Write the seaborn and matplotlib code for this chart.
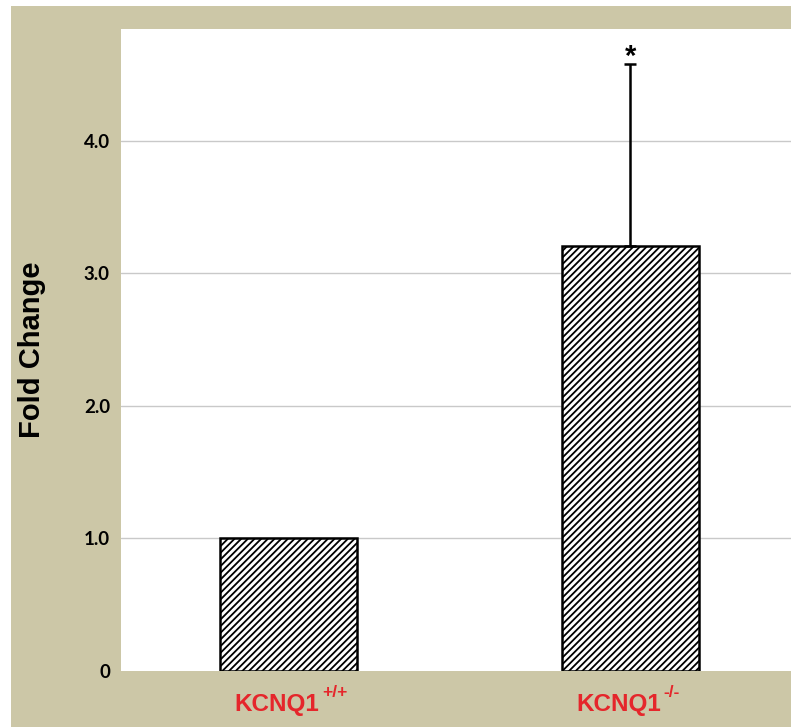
import matplotlib
matplotlib.use("Agg")
import matplotlib.pyplot as plt
from matplotlib.patches import Rectangle
from matplotlib.transforms import ScaledTranslation
import seaborn as sns
import pandas as pd

# Data
genotypes = ["KCNQ1+/+", "KCNQ1-/-"]
gene_label = ["KCNQ1", "KCNQ1"]
zygosity = ["+/+", "-/-"]
fold_change = [1.0, 3.21]
upper_error = [0.0, 1.37]
significance = ["", "*"]
y_ticks = [0, 1.0, 2.0, 3.0, 4.0]
y_tick_labels = ["0", "1.0", "2.0", "3.0", "4.0"]

BEIGE = "#CCC7A7"
RED = "#E5262B"

sns.set_theme(style="white")
plt.rcParams["font.family"] = ["Liberation Sans", "DejaVu Sans"]
plt.rcParams["hatch.linewidth"] = 1.3

df = pd.DataFrame({"genotype": genotypes, "fold": fold_change})

fig = plt.figure(figsize=(7.91, 7.27), dpi=100)
fig.patch.set_facecolor("white")
fig.add_artist(Rectangle((11 / 791, 0), 1, (727 - 6) / 727,
                         transform=fig.transFigure, facecolor=BEIGE,
                         edgecolor="none", zorder=-10))

ax = fig.add_axes([121 / 791, (727 - 671) / 727, (791 - 121) / 791, (671 - 29) / 727])
ax.set_facecolor("white")

sns.barplot(data=df, x="genotype", y="fold", ax=ax, width=0.4,
            color="white", edgecolor="black", linewidth=1.8,
            hatch="/////", errorbar=None, zorder=3)

# One-sided (upper) error bars, only where an error is given
idx = [i for i, e in enumerate(upper_error) if e > 0]
ax.errorbar(idx, [fold_change[i] for i in idx],
            yerr=[[0] * len(idx), [upper_error[i] for i in idx]],
            fmt="none", ecolor="black", elinewidth=1.8, capsize=4,
            capthick=1.8, zorder=4)

for i, (v, e, s) in enumerate(zip(fold_change, upper_error, significance)):
    if s:
        ax.annotate(s, (i, v + e), xytext=(0, -5), textcoords="offset points",
                    ha="center", va="bottom", fontsize=21, fontweight="bold",
                    color="black")

ax.set_xlim(-0.49, 1.47)
ax.set_ylim(0, 4.845)
ax.set_yticks(y_ticks)
ax.set_yticklabels(y_tick_labels, fontsize=13.5, fontweight="bold",
                   color="black", family=["Lato", "DejaVu Sans"])
ax.set_xticks(range(len(genotypes)))
ax.set_xticklabels(gene_label, fontsize=17.5, fontweight="bold", color=RED)
ax.tick_params(axis="both", length=0)
ax.tick_params(axis="y", pad=8)
ax.tick_params(axis="x", pad=16)

# Shift gene names left to leave room for the genotype superscripts
shift = ScaledTranslation(-12 / 100, 0, fig.dpi_scale_trans)
for lab in ax.get_xticklabels():
    lab.set_transform(lab.get_transform() + shift)

xform = ax.get_xaxis_transform()
for i, z in enumerate(zygosity):
    ax.annotate(z, (i, 0), xycoords=xform, xytext=(24, -10),
                textcoords="offset points", ha="left", va="top",
                fontsize=12.5, fontweight="bold", color=RED)

for y in y_ticks[1:]:
    ax.axhline(y, color="#C9C9C9", linewidth=1.0, zorder=1)

for sp in ax.spines.values():
    sp.set_visible(False)

ax.set_xlabel("")
ax.set_ylabel("Fold Change", fontsize=21, fontweight="heavy", color="black")
ax.yaxis.label.set_va("center")
ax.yaxis.set_label_coords((32 - 121) / 670, 0.5)

fig.savefig("out.png", dpi=100, facecolor=fig.get_facecolor())
